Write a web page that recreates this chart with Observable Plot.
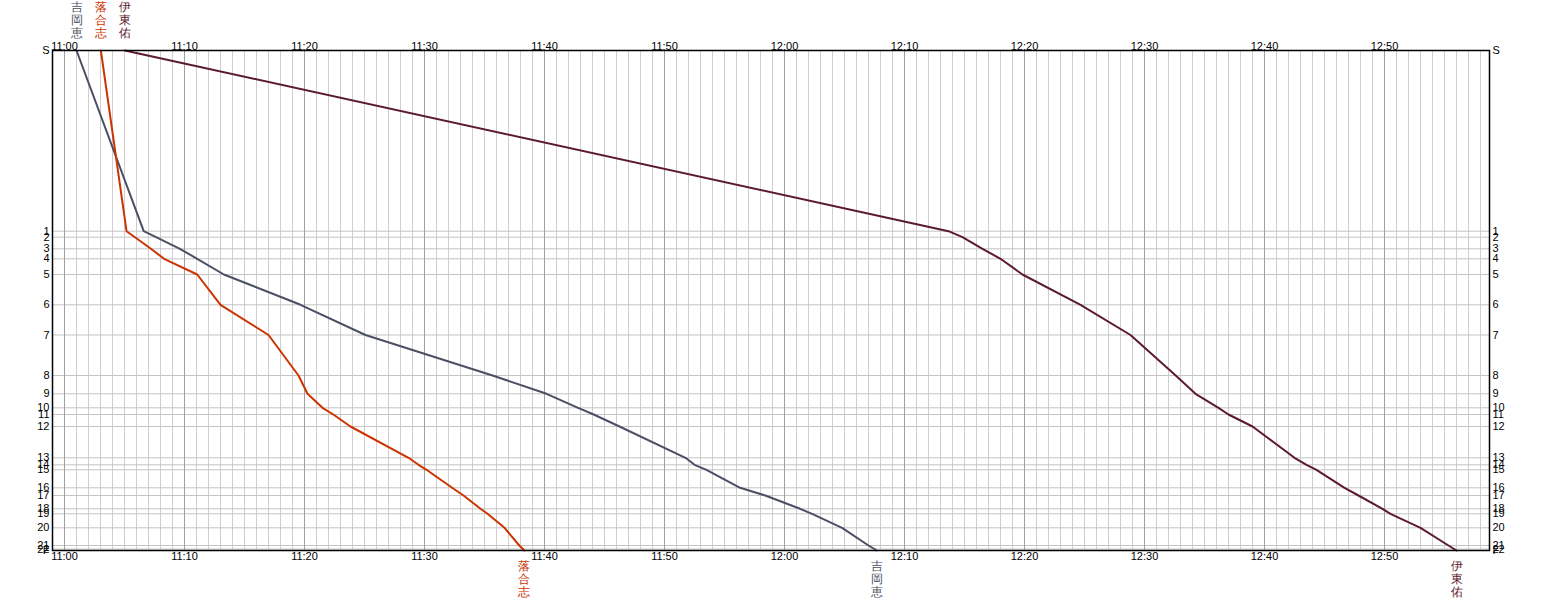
<!DOCTYPE html>
<html>
<head>
<meta charset="utf-8">
<script src="https://cdn.jsdelivr.net/npm/d3@7"></script>
<script src="https://cdn.jsdelivr.net/npm/@observablehq/plot@0.6"></script>
<style>
  html, body { margin: 0; padding: 0; background: #fff; }
</style>
</head>
<body>
<div id="chart"></div>
<script>
// Control labels and their relative positions along the course
const controls   = ["S","1","2","3","4","5","6","7","8","9","10","11","12","13","14","15","16","17","18","19","20","21","22","F"];
const controlPos = [0,180.7,186.7,198.3,208.3,224,254.3,284.5,325,343.3,357.3,364,376,407.3,414.3,419.3,437.3,445,458.3,463.3,477.3,495,498.5,500];

// Runners, colours
const runners = ["吉岡恵","落合志","伊東佑"];
const colors  = ["#4a4f63","#cc3300","#5c1a2e"];

// Passing times in minutes after 11:00, one per control (S … F)
const timesYoshioka = [1.0,6.6,7.63,9.62,11.06,13.28,19.67,25.08,35.67,40.17,42.8,44.1,46.25,51.75,52.5,53.5,56.3,58.4,61.3,62.3,64.8,67.0,67.5,67.67];
const timesOchiai   = [3.03,5.17,5.87,7.2,8.3,11.06,13.0,17.0,19.5,20.25,21.5,22.4,23.83,28.67,29.5,30.17,32.3,33.25,34.67,35.25,36.67,37.9,38.2,38.33];
const timesIto      = [5.03,73.67,74.83,76.5,78.0,79.83,84.67,88.83,92.6,94.25,96.17,97.0,99.0,102.5,103.5,104.33,106.67,107.83,109.83,110.5,113.0,115.33,115.8,116.0];

// Time axis
const timeDomain = [-1, 118.75];
const tickMinutes = [0,10,20,30,40,50,60,70,80,90,100,110];
const tickLabels  = ["11:00","11:10","11:20","11:30","11:40","11:50","12:00","12:10","12:20","12:30","12:40","12:50"];

const allTimes = [timesYoshioka, timesOchiai, timesIto];
const lineData = [];
allTimes.forEach((ts, r) => ts.forEach((t, i) => lineData.push({runner: runners[r], t, pos: controlPos[i]})));

const minorMinutes = d3.range(0, 119).filter(m => m % 10 !== 0);
const ticks = tickMinutes.map((m, i) => ({m, label: tickLabels[i]}));
const ctrl = controls.map((c, i) => ({c, pos: controlPos[i]}));
const nameTop = runners.map((n, r) => ({name: n.split("").join("\n"), t: allTimes[r][0], color: colors[r]}));
const nameBot = runners.map((n, r) => ({name: n.split("").join("\n"), t: allTimes[r][allTimes[r].length - 1], color: colors[r]}));

const font = "'Liberation Sans', Arial, sans-serif";

const chart = Plot.plot({
  width: 1541,
  height: 600,
  marginLeft: 52,
  marginRight: 52,
  marginTop: 50,
  marginBottom: 50,
  style: {fontFamily: font, fontSize: "11px", background: "#fff", color: "#000"},
  x: {domain: timeDomain, axis: null},
  y: {domain: [0, 500], reverse: true, axis: null},
  marks: [
    Plot.ruleX(minorMinutes, {x: d => d, stroke: "#cfcfcf", strokeWidth: 1}),
    Plot.ruleY(ctrl, {y: "pos", stroke: "#c4c4c4", strokeWidth: 1}),
    Plot.ruleX(tickMinutes, {x: d => d, stroke: "#a0a0a0", strokeWidth: 1}),
    Plot.line(lineData, {x: "t", y: "pos", z: "runner", stroke: "runner", strokeWidth: 2, curve: "linear"}),
    Plot.frame({stroke: "#000", strokeWidth: 1.5}),
    // time labels top & bottom
    Plot.text(ticks, {x: "m", y: 0, text: "label", lineAnchor: "bottom", dy: -1, fill: "#000"}),
    Plot.text(ticks, {x: "m", y: 500, text: "label", lineAnchor: "top", dy: 2, fill: "#000"}),
    // control labels left & right
    Plot.text(ctrl, {x: timeDomain[0], y: "pos", text: "c", textAnchor: "end", dx: -3, fill: "#000"}),
    Plot.text(ctrl, {x: timeDomain[1], y: "pos", text: "c", textAnchor: "start", dx: 3, fill: "#000"}),
    // runner names at start and finish
    Plot.text(nameTop, {x: "t", y: 0, text: "name", fill: "color", lineAnchor: "bottom", dy: -14, lineHeight: 1.05, fontSize: 12}),
    Plot.text(nameBot, {x: "t", y: 500, text: "name", fill: "color", lineAnchor: "top", dy: 11, lineHeight: 1.05, fontSize: 12})
  ],
  color: {domain: runners, range: colors}
});

document.getElementById("chart").appendChild(chart);
</script>
</body>
</html>
